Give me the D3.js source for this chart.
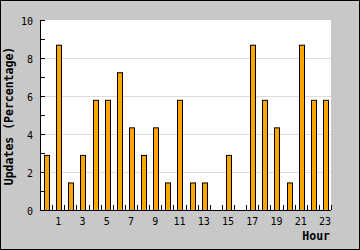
<!DOCTYPE html>
<html><head><meta charset="utf-8">
<script src="https://cdn.jsdelivr.net/npm/d3@7"></script>
<style>html,body{margin:0;padding:0;background:#c8c8c8;}svg{display:block;}</style>
</head><body>
<svg id="c" width="360" height="250"></svg>
<script>
const hours = d3.range(0, 24);
const hourLabels = ["1","3","5","7","9","11","13","15","17","19","21","23"];
const values = [2.90, 8.70, 1.45, 2.90, 5.80, 5.80, 7.25, 4.35, 2.90, 4.35, 1.45, 5.80,
                1.45, 1.45, 0, 2.90, 0, 8.70, 5.80, 4.35, 1.45, 8.70, 5.80, 5.80];
const yTicks = [0, 2, 4, 6, 8, 10];
const yMinor = [1, 3, 5, 7, 9];
const yTitle = "Updates (Percentage)";
const xTitle = "Hour";

const svg = d3.select("#c");
const W = 360, H = 250;
const L = 40, R = 331, T = 20, B = 210;

svg.append("rect").attr("x", 0.5).attr("y", 0.5).attr("width", W - 1).attr("height", H - 1)
  .attr("fill", "#c8c8c8").attr("stroke", "#000");

const x = d3.scaleBand().domain(hours).range([L, R]).padding(0);
const y = d3.scaleLinear().domain([0, 10]).range([B, T]);

svg.append("rect").attr("x", L).attr("y", T).attr("width", R - L).attr("height", B - T).attr("fill", "#fff");

// grid
svg.append("g").selectAll("line").data(yTicks.filter(v => v > 0 && v < 10)).join("line")
  .attr("x1", L + 1).attr("x2", R)
  .attr("y1", d => y(d) + 0.5).attr("y2", d => y(d) + 0.5)
  .attr("stroke", "#dcdcdc").attr("stroke-width", 1);

// bars
svg.append("g").selectAll("rect").data(hours).join("rect")
  .attr("x", d => Math.round(x(d)) + 4.5)
  .attr("width", 5)
  .attr("y", d => y(values[d]) + 0.5)
  .attr("height", d => Math.max(0, B - y(values[d])))
  .attr("fill", "#ffa500").attr("stroke", "#000").attr("stroke-width", 1)
  .attr("display", d => values[d] > 0 ? null : "none");

// y axis line & ticks
const ax = svg.append("g").attr("stroke", "#000").attr("stroke-width", 1);
ax.append("line").attr("x1", L + 0.5).attr("x2", L + 0.5).attr("y1", T).attr("y2", B + 1);
ax.selectAll(".yt").data(yTicks.concat(yMinor)).join("line").attr("class", "yt")
  .attr("x1", L).attr("x2", L + 5)
  .attr("y1", d => y(d) + 0.5).attr("y2", d => y(d) + 0.5);
// x axis line & ticks
ax.append("line").attr("x1", L).attr("x2", R).attr("y1", B + 0.5).attr("y2", B + 0.5);
ax.selectAll(".xt").data(hours.slice(1).concat([24])).join("line").attr("class", "xt")
  .attr("x1", d => Math.round(d < 24 ? x(d) : R) + 0.5).attr("x2", d => Math.round(d < 24 ? x(d) : R) + 0.5)
  .attr("y1", B - 5).attr("y2", B);

const mono = "'DejaVu Sans Mono', 'Liberation Mono', monospace";
svg.append("g").selectAll("text").data(yTicks).join("text")
  .attr("x", 33).attr("y", d => y(d) + 5).attr("text-anchor", "end")
  .attr("font-family", mono).attr("font-size", 10).attr("fill", "#000").text(d => d);

svg.append("g").selectAll("text").data(hourLabels).join("text")
  .attr("x", d => x(+d) + x.bandwidth() / 2).attr("y", B + 15).attr("text-anchor", "middle")
  .attr("font-family", mono).attr("font-size", 10).attr("fill", "#000").text(d => d);

svg.append("text").attr("x", 330).attr("y", 240).attr("text-anchor", "end")
  .attr("font-family", mono).attr("font-size", 11.5).attr("font-weight", "bold").text(xTitle);

svg.append("text").attr("transform", "translate(13,116) rotate(-90)").attr("text-anchor", "middle")
  .attr("font-family", mono).attr("font-size", 11.5).attr("font-weight", "bold").text(yTitle);
</script>
</body></html>
